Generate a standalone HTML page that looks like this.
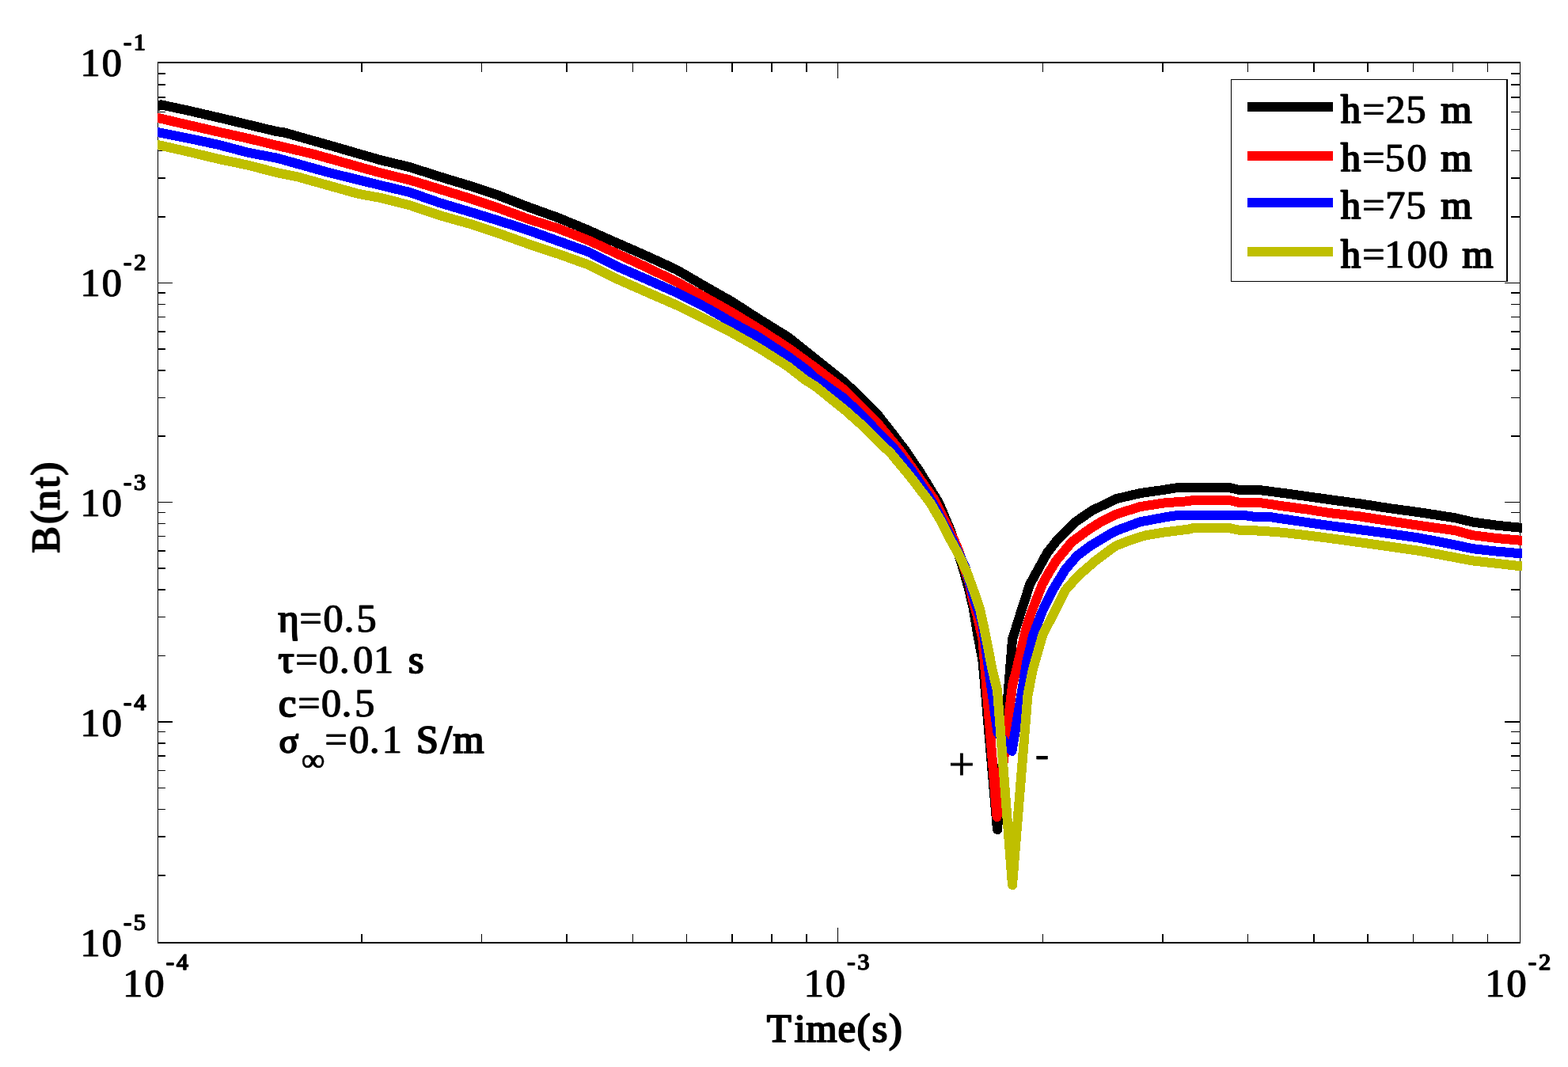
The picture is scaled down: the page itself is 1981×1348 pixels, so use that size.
<!DOCTYPE html>
<html lang="en"><head><meta charset="utf-8"><title>B(nt) vs Time(s)</title>
<style>html,body{margin:0;padding:0;background:#fff;overflow:hidden}svg{display:block}text{font-family:"Liberation Serif","DejaVu Serif",serif;font-weight:normal;font-size:50px;fill:#000;stroke:#000;stroke-width:0.5px;stroke-linejoin:miter;filter:url(#b)}.e{font-size:29.5px;stroke-width:1.0px}.b{stroke-width:1.3px}.n{stroke:none;filter:none}</style></head><body>
<svg width="1981" height="1348" viewBox="0 0 1981 1348">
<rect x="0" y="0" width="1981" height="1348" fill="#fff"/>
<defs><clipPath id="c"><rect x="199" y="78" width="1724" height="1114"/></clipPath><filter id="b" x="-10%" y="-10%" width="120%" height="120%"><feOffset dx="1" dy="0" result="o"/><feMerge><feMergeNode in="SourceGraphic"/><feMergeNode in="o"/></feMerge></filter></defs>
<g fill="#000" shape-rendering="crispEdges">
<rect x="199" y="78" width="1722" height="2"/>
<rect x="199" y="1190" width="1722" height="2"/>
<rect x="199" y="78" width="1" height="1114"/>
<rect x="1920" y="78" width="1" height="1114"/>
<rect x="456.29" y="1180" width="1.5" height="10"/>
<rect x="456.29" y="80" width="1.5" height="11"/>
<rect x="607.81" y="1180" width="1.5" height="10"/>
<rect x="607.81" y="80" width="1.5" height="11"/>
<rect x="715.32" y="1180" width="1.5" height="10"/>
<rect x="715.32" y="80" width="1.5" height="11"/>
<rect x="798.71" y="1180" width="1.5" height="10"/>
<rect x="798.71" y="80" width="1.5" height="11"/>
<rect x="866.85" y="1180" width="1.5" height="10"/>
<rect x="866.85" y="80" width="1.5" height="11"/>
<rect x="924.46" y="1180" width="1.5" height="10"/>
<rect x="924.46" y="80" width="1.5" height="11"/>
<rect x="974.36" y="1180" width="1.5" height="10"/>
<rect x="974.36" y="80" width="1.5" height="11"/>
<rect x="1018.38" y="1180" width="1.5" height="10"/>
<rect x="1018.38" y="80" width="1.5" height="11"/>
<rect x="1057.75" y="1172" width="1.5" height="18"/>
<rect x="1057.75" y="80" width="1.5" height="19"/>
<rect x="1316.79" y="1180" width="1.5" height="10"/>
<rect x="1316.79" y="80" width="1.5" height="11"/>
<rect x="1468.31" y="1180" width="1.5" height="10"/>
<rect x="1468.31" y="80" width="1.5" height="11"/>
<rect x="1575.82" y="1180" width="1.5" height="10"/>
<rect x="1575.82" y="80" width="1.5" height="11"/>
<rect x="1659.21" y="1180" width="1.5" height="10"/>
<rect x="1659.21" y="80" width="1.5" height="11"/>
<rect x="1727.35" y="1180" width="1.5" height="10"/>
<rect x="1727.35" y="80" width="1.5" height="11"/>
<rect x="1784.96" y="1180" width="1.5" height="10"/>
<rect x="1784.96" y="80" width="1.5" height="11"/>
<rect x="1834.86" y="1180" width="1.5" height="10"/>
<rect x="1834.86" y="80" width="1.5" height="11"/>
<rect x="1878.88" y="1180" width="1.5" height="10"/>
<rect x="1878.88" y="80" width="1.5" height="11"/>
<rect x="200" y="1105.07" width="9" height="1.5"/>
<rect x="1909" y="1105.07" width="11" height="1.5"/>
<rect x="200" y="1056.24" width="9" height="1.5"/>
<rect x="1909" y="1056.24" width="11" height="1.5"/>
<rect x="200" y="1021.60" width="9" height="1.5"/>
<rect x="1909" y="1021.60" width="11" height="1.5"/>
<rect x="200" y="994.73" width="9" height="1.5"/>
<rect x="1909" y="994.73" width="11" height="1.5"/>
<rect x="200" y="972.77" width="9" height="1.5"/>
<rect x="1909" y="972.77" width="11" height="1.5"/>
<rect x="200" y="954.20" width="9" height="1.5"/>
<rect x="1909" y="954.20" width="11" height="1.5"/>
<rect x="200" y="938.12" width="9" height="1.5"/>
<rect x="1909" y="938.12" width="11" height="1.5"/>
<rect x="200" y="923.94" width="9" height="1.5"/>
<rect x="1909" y="923.94" width="11" height="1.5"/>
<rect x="200" y="911.25" width="18" height="1.5"/>
<rect x="1901" y="911.25" width="19" height="1.5"/>
<rect x="200" y="827.77" width="9" height="1.5"/>
<rect x="1909" y="827.77" width="11" height="1.5"/>
<rect x="200" y="778.94" width="9" height="1.5"/>
<rect x="1909" y="778.94" width="11" height="1.5"/>
<rect x="200" y="744.30" width="9" height="1.5"/>
<rect x="1909" y="744.30" width="11" height="1.5"/>
<rect x="200" y="717.43" width="9" height="1.5"/>
<rect x="1909" y="717.43" width="11" height="1.5"/>
<rect x="200" y="695.47" width="9" height="1.5"/>
<rect x="1909" y="695.47" width="11" height="1.5"/>
<rect x="200" y="676.90" width="9" height="1.5"/>
<rect x="1909" y="676.90" width="11" height="1.5"/>
<rect x="200" y="660.82" width="9" height="1.5"/>
<rect x="1909" y="660.82" width="11" height="1.5"/>
<rect x="200" y="646.64" width="9" height="1.5"/>
<rect x="1909" y="646.64" width="11" height="1.5"/>
<rect x="200" y="633.95" width="18" height="1.5"/>
<rect x="1901" y="633.95" width="19" height="1.5"/>
<rect x="200" y="550.47" width="9" height="1.5"/>
<rect x="1909" y="550.47" width="11" height="1.5"/>
<rect x="200" y="501.64" width="9" height="1.5"/>
<rect x="1909" y="501.64" width="11" height="1.5"/>
<rect x="200" y="467.00" width="9" height="1.5"/>
<rect x="1909" y="467.00" width="11" height="1.5"/>
<rect x="200" y="440.13" width="9" height="1.5"/>
<rect x="1909" y="440.13" width="11" height="1.5"/>
<rect x="200" y="418.17" width="9" height="1.5"/>
<rect x="1909" y="418.17" width="11" height="1.5"/>
<rect x="200" y="399.60" width="9" height="1.5"/>
<rect x="1909" y="399.60" width="11" height="1.5"/>
<rect x="200" y="383.52" width="9" height="1.5"/>
<rect x="1909" y="383.52" width="11" height="1.5"/>
<rect x="200" y="369.34" width="9" height="1.5"/>
<rect x="1909" y="369.34" width="11" height="1.5"/>
<rect x="200" y="356.65" width="18" height="1.5"/>
<rect x="1901" y="356.65" width="19" height="1.5"/>
<rect x="200" y="273.17" width="9" height="1.5"/>
<rect x="1909" y="273.17" width="11" height="1.5"/>
<rect x="200" y="224.34" width="9" height="1.5"/>
<rect x="1909" y="224.34" width="11" height="1.5"/>
<rect x="200" y="189.70" width="9" height="1.5"/>
<rect x="1909" y="189.70" width="11" height="1.5"/>
<rect x="200" y="162.83" width="9" height="1.5"/>
<rect x="1909" y="162.83" width="11" height="1.5"/>
<rect x="200" y="140.87" width="9" height="1.5"/>
<rect x="1909" y="140.87" width="11" height="1.5"/>
<rect x="200" y="122.30" width="9" height="1.5"/>
<rect x="1909" y="122.30" width="11" height="1.5"/>
<rect x="200" y="106.22" width="9" height="1.5"/>
<rect x="1909" y="106.22" width="11" height="1.5"/>
<rect x="200" y="92.04" width="9" height="1.5"/>
<rect x="1909" y="92.04" width="11" height="1.5"/>
</g>
<g clip-path="url(#c)" fill="none" stroke-width="12" stroke-linejoin="round" stroke-linecap="butt" shape-rendering="crispEdges">
<polyline stroke="#000000" points="188.0,139.5 203.5,132.3 237.9,139.7 275.7,148.4 313.6,157.5 350.0,166.2 358.6,167.3 422.2,185.3 480.0,202.0 517.9,211.2 555.7,223.3 593.6,234.8 630.0,246.9 667.9,261.7 705.7,275.3 743.6,291.0 780.0,307.2 817.9,323.8 855.7,341.3 893.6,363.5 925.0,381.2 957.9,402.5 995.7,425.9 1032.8,455.5 1068.4,484.0 1108.1,522.9 1132.0,553.6 1144.4,569.9 1163.1,597.6 1186.5,636.0 1196.1,659.1 1200.7,669.6 1211.8,702.3 1217.6,721.2 1224.3,745.4 1229.6,768.1 1235.1,801.0 1241.5,835.0 1260.0,1048.0 1279.0,808.0 1290.3,771.9 1298.0,748.0 1301.3,737.9 1323.0,698.5 1336.8,680.8 1357.6,660.1 1379.8,645.0 1410.3,630.1 1440.6,623.1 1470.9,618.8 1487.5,616.1 1553.5,616.1 1566.3,619.2 1592.1,619.2 1620.9,622.9 1651.2,627.1 1680.0,631.2 1717.9,636.3 1755.7,642.2 1793.6,647.3 1837.9,654.2 1860.6,659.5 1890.9,663.7 1923.0,666.9 1932.0,667.8"/>
<polyline stroke="#ff0000" points="188.0,146.2 199.5,148.9 237.9,157.9 275.7,166.6 313.6,174.9 350.0,183.8 396.4,194.8 480.0,218.2 517.9,227.5 555.7,239.0 593.6,250.7 630.0,262.9 667.9,276.8 705.7,288.8 743.6,303.7 780.0,320.7 817.9,338.2 855.7,356.5 893.6,377.2 925.0,394.8 957.9,415.0 995.7,439.5 1030.0,464.5 1066.9,492.7 1108.5,534.4 1126.1,555.8 1137.6,570.0 1157.2,597.8 1180.0,630.5 1193.9,658.4 1205.2,681.7 1211.2,696.1 1225.1,737.9 1229.6,760.6 1234.1,775.7 1241.5,808.0 1259.5,1032.0 1279.0,866.0 1284.3,845.4 1294.5,802.0 1298.0,788.0 1303.7,771.9 1317.0,737.9 1325.1,723.4 1334.7,707.9 1354.3,684.5 1376.5,668.3 1391.0,659.3 1410.3,649.6 1440.6,640.1 1470.9,635.4 1501.1,633.2 1507.2,632.0 1553.5,632.0 1566.3,635.1 1592.1,635.1 1620.9,639.4 1651.2,643.5 1680.0,648.1 1717.9,652.4 1755.7,658.3 1793.6,664.0 1837.9,670.1 1860.6,676.2 1890.9,680.0 1923.0,682.9 1932.0,683.7"/>
<polyline stroke="#0000ff" points="188.0,164.8 199.5,167.1 237.9,174.7 275.7,182.8 313.6,192.8 350.0,199.7 414.6,217.8 480.0,233.9 517.9,243.0 555.7,256.3 593.6,267.6 630.0,278.8 667.9,291.0 705.7,304.7 743.6,318.3 780.0,336.8 817.9,353.3 855.7,370.1 893.6,389.3 925.0,407.5 957.9,425.5 995.7,450.4 1018.4,466.9 1030.0,477.5 1067.1,503.8 1093.9,529.9 1118.8,556.1 1128.8,565.8 1151.2,594.1 1170.6,623.0 1180.0,638.0 1191.7,660.7 1203.8,683.4 1212.7,702.1 1219.5,716.5 1231.9,760.6 1237.2,775.7 1241.5,790.0 1260.5,925.6 1278.5,948.9 1297.5,835.0 1305.5,802.0 1316.5,773.0 1330.6,744.5 1346.0,719.2 1360.4,702.6 1376.7,690.2 1403.3,674.2 1410.3,670.4 1440.6,659.3 1470.9,653.6 1487.5,651.0 1572.4,651.0 1588.3,653.4 1606.5,653.4 1636.0,657.8 1680.0,664.1 1717.9,669.1 1755.7,674.2 1793.6,679.7 1837.9,688.3 1860.6,693.2 1890.9,696.6 1923.0,699.4 1932.0,700.2"/>
<polyline stroke="#bfbf00" points="188.0,180.4 199.5,183.0 237.9,191.7 275.7,200.8 313.6,208.7 350.0,218.2 376.7,223.6 452.5,244.8 480.0,249.8 517.9,259.3 555.7,272.2 593.6,282.8 630.0,294.8 667.9,308.4 705.7,320.9 743.6,334.6 780.0,352.7 817.9,369.4 855.7,385.9 920.0,417.7 957.9,439.1 995.7,463.1 1016.9,479.8 1030.0,487.9 1067.9,518.5 1090.6,538.6 1126.5,573.9 1149.2,601.2 1175.1,635.0 1188.6,657.9 1200.1,680.6 1210.8,699.8 1221.3,722.1 1229.8,745.4 1237.7,768.1 1244.9,801.0 1253.5,845.4 1260.0,872.0 1279.0,1118.0 1298.5,878.0 1305.0,845.4 1317.7,801.0 1327.0,783.3 1345.7,746.0 1361.8,727.8 1383.9,708.6 1403.3,694.1 1410.3,689.3 1426.0,683.2 1440.6,678.2 1448.7,676.1 1470.9,672.4 1501.1,668.7 1507.2,667.2 1553.5,667.2 1566.3,669.9 1592.1,670.6 1620.9,672.8 1651.2,676.3 1680.0,680.0 1717.9,685.2 1755.7,690.5 1793.6,695.9 1837.9,704.2 1860.6,708.4 1890.9,711.8 1923.0,715.5 1932.0,716.5"/>
</g>
<g shape-rendering="crispEdges">
<rect x="1555" y="100" width="350" height="256" fill="#000"/><rect x="1556" y="101" width="347" height="254" fill="#fff"/>
<rect x="1576" y="129" width="108" height="12" fill="#000000"/>
<rect x="1576" y="191" width="108" height="12" fill="#ff0000"/>
<rect x="1576" y="250" width="108" height="12" fill="#0000ff"/>
<rect x="1576" y="312" width="108" height="12" fill="#bfbf00"/>
</g>
<text x="1693.5 1720.8 1750.0 1776.0 1805.9 1819.9" y="155.4" xml:space="preserve"><tspan class="b">h</tspan>=25 <tspan class="b">m</tspan></text>
<text x="1693.5 1720.8 1749.2 1777.0 1805.9 1819.9" y="216.3" xml:space="preserve"><tspan class="b">h</tspan>=50 <tspan class="b">m</tspan></text>
<text x="1693.5 1720.8 1749.7 1776.0 1805.9 1819.9" y="276.3" xml:space="preserve"><tspan class="b">h</tspan>=75 <tspan class="b">m</tspan></text>
<text x="1693.5 1720.8 1748.7 1777.2 1804.1 1833.0 1847.0" y="337.5" xml:space="preserve"><tspan class="b">h</tspan>=100 <tspan class="b">m</tspan></text>
<text x="101.1 128.2 155.8 168.5" y="96.4">10<tspan class="e" dy="-33.9">-1</tspan></text>
<text x="101.1 128.2 155.8 169.1" y="374.4">10<tspan class="e" dy="-33.9">-2</tspan></text>
<text x="101.1 128.2 155.8 168.8" y="652.4">10<tspan class="e" dy="-33.9">-3</tspan></text>
<text x="101.1 128.2 155.8 168.9" y="930.4">10<tspan class="e" dy="-33.9">-4</tspan></text>
<text x="101.1 128.2 155.8 168.6" y="1208.4">10<tspan class="e" dy="-33.9">-5</tspan></text>
<text x="154.7 181.9 209.4 222.5" y="1259.3">10<tspan class="e" dy="-33.9">-4</tspan></text>
<text x="1015.2 1042.4 1069.9 1082.9" y="1259.3">10<tspan class="e" dy="-33.9">-3</tspan></text>
<text x="1875.7 1902.9 1930.4 1943.7" y="1259.3">10<tspan class="e" dy="-33.9">-2</tspan></text>
<text x="968.5 1003.3 1018.0 1058.3 1082.3 1101.2 1122.5" y="1315.6" xml:space="preserve"><tspan class="b">Time(s)</tspan></text>
<text class="b" x="0.9 37.7 55.3 83.0 98.9" y="0" transform="translate(74.6,700.0) rotate(-90)">B(nt)</text>
<text x="350.9 377.9 408.1 434.2 450.1" y="797.5" xml:space="preserve"><tspan class="b">η</tspan>=0.5</text>
<text x="350.9 372.8 402.3 428.5 445.8 471.4 500.0 515.5" y="850.4" xml:space="preserve"><tspan class="b">τ</tspan>=0.01 <tspan class="b">s</tspan></text>
<text x="351.4 375.7 405.6 431.2 447.7" y="904.9" xml:space="preserve"><tspan class="b">c</tspan>=0.5</text>
<text x="352.3 380.4 409.9 440.8 466.4 482.2 510.0 525.4 556.6 572.1" y="950.8" xml:space="preserve"><tspan class="b" style="font-size:45px">σ</tspan><tspan style="font-size:41px;stroke-width:0.3px" dy="22.7">∞</tspan><tspan dy="-22.7">=0.1 <tspan class="b">S/m</tspan></tspan></text>
<text style="font-size:58px;stroke-width:0.9px;filter:none" x="1198.6" y="985.3">+</text>
<text x="1307.7" y="969.2">-</text>
</svg></body></html>
